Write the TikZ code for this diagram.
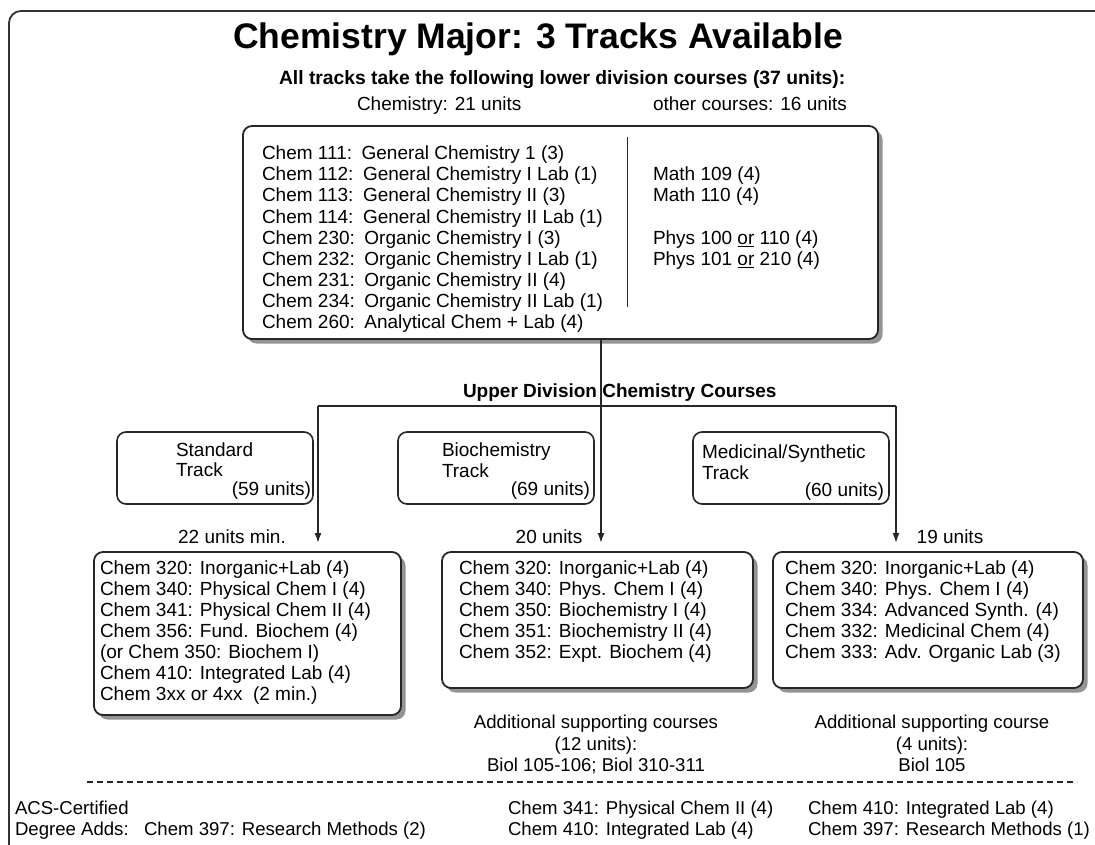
\documentclass[tikz,border=0pt]{standalone}
\usepackage{fontspec}
\setmainfont{Liberation Sans}
\usetikzlibrary{arrows.meta,shadows}
\begin{document}
\begin{tikzpicture}[x=1pt,y=-1pt,
 every node/.style={inner sep=0pt,outer sep=0pt},
 txt/.style={text height=13.6pt,text depth=0pt,anchor=west,font=\fontsize{19}{22}\selectfont},
 btxt/.style={text height=13.8pt,text depth=0pt,anchor=west,font=\bfseries\fontsize{19.3}{22}\selectfont},
 ctxt/.style={text height=13.3pt,text depth=0pt,anchor=center,font=\fontsize{18.6}{22}\selectfont},
 ntxt/.style={text height=13.3pt,text depth=0pt,anchor=west,font=\fontsize{18.6}{22}\selectfont},
 shadowbox/.style={draw=black!85,line width=1.8pt,rounded corners=9pt,fill=white,
   drop shadow={shadow xshift=4.5pt,shadow yshift=-4.5pt,fill=black!42,opacity=1}},
 trackbox/.style={draw=black!85,line width=1.6pt,rounded corners=9pt},
 conn/.style={draw=black!85,line width=1.5pt},
 arr/.style={conn,-{Latex[length=10pt,width=7pt]},shorten >=9pt},
 dline/.style={draw=black!85,line width=1.5pt,dash pattern=on 6pt off 4pt}
]
\useasboundingbox (0,0) rectangle (1095,845);
\fill[white] (0,0) rectangle (1095,845);
\begin{scope}
\clip (0,0) rectangle (1095,845);
\draw[line width=1.8pt,draw=black!80,rounded corners=12pt] (9,11) rectangle (1120,865);
\end{scope}

% title
\node[text height=25.4pt,text depth=0pt,font=\bfseries\fontsize{35.5}{40}\selectfont] (title) at (538,36) {Chemistry Major: 3 Tracks Available};
\node[btxt] (sub) at (279,77.5) {All tracks take the following lower division courses (37 units):};
\node[txt] (chemunits) at (357,104) {Chemistry: 21 units};
\node[txt] (otherunits) at (653,104) {other courses: 16 units};

% main box
\node[shadowbox,minimum width=635pt,minimum height=213pt] (main) at (560.5,232.5) {};
\foreach \t [count=\i from 0] in {
 Chem 111:\hspace{0.5em}General Chemistry 1 (3),
 Chem 112:\hspace{0.5em}General Chemistry I Lab (1),
 Chem 113:\hspace{0.5em}General Chemistry II (3),
 Chem 114:\hspace{0.5em}General Chemistry II Lab (1),
 Chem 230:\hspace{0.5em}Organic Chemistry I (3),
 Chem 232:\hspace{0.5em}Organic Chemistry I Lab (1),
 Chem 231:\hspace{0.5em}Organic Chemistry II (4),
 Chem 234:\hspace{0.5em}Organic Chemistry II Lab (1),
 Chem 260:\hspace{0.5em}Analytical Chem + Lab (4)}
 \node[txt] (lc\i) at (262,{153+21.1*\i}) {\t};
\coordinate (dvt) at (627.5,137);
\coordinate (dvb) at (627.5,307);
\draw[conn] (dvt) -- (dvb);
\node[txt] (m1) at (653,{153+21.1}) {Math 109 (4)};
\node[txt] (m2) at (653,{153+2*21.1}) {Math 110 (4)};
\node[txt] (p1) at (653,{153+4*21.1}) {Phys 100 \underline{or} 110 (4)};
\node[txt] (p2) at (653,{153+5*21.1}) {Phys 101 \underline{or} 210 (4)};

% upper division
\node[btxt,font=\bfseries\fontsize{19}{22}\selectfont] (upper) at (463,391) {Upper Division Chemistry Courses};
\coordinate (jm) at (601,406);
\coordinate (jl) at (318,406);
\coordinate (jr) at (896,406);

% track boxes
\node[trackbox,minimum width=196pt,minimum height=72pt] (std) at (215,468) {};
\node[trackbox,minimum width=196pt,minimum height=72pt] (bio) at (496,468) {};
\node[trackbox,minimum width=196pt,minimum height=72pt] (med) at (791,468) {};
\node[txt] (std1) at (176,450) {Standard};
\node[txt] (std2) at (176,470) {Track};
\node[txt,anchor=east] (std3) at (311,489) {(59 units)};
\node[txt] (bio1) at (442,450) {Biochemistry};
\node[txt] (bio2) at (442,471) {Track};
\node[txt,anchor=east] (bio3) at (590,489) {(69 units)};
\node[txt] (med1) at (702,452) {Medicinal/Synthetic};
\node[txt] (med2) at (702,473) {Track};
\node[txt,anchor=east] (med3) at (884,490) {(60 units)};

% course boxes
\node[shadowbox,minimum width=307pt,minimum height=163pt] (lbox) at (247.5,633.5) {};
\node[shadowbox,minimum width=311pt,minimum height=136pt] (mbox) at (597.5,620) {};
\node[shadowbox,minimum width=310pt,minimum height=136pt] (rbox) at (928,620) {};

\node[txt,anchor=center] (lu) at (232,537) {22 units min.};
\node[txt,anchor=center] (mu) at (549,537) {20 units};
\node[txt,anchor=center] (ru) at (950,537) {19 units};

\foreach \t [count=\i from 0] in {
 Chem 320: Inorganic+Lab (4),
 Chem 340: Physical Chem I (4),
 Chem 341: Physical Chem II (4),
 Chem 356: Fund. Biochem (4),
 (or Chem 350: Biochem I),
 Chem 410: Integrated Lab (4),
 Chem 3xx or 4xx\ \ (2 min.)}
 \node[txt] (l\i) at (100,{568+21*\i}) {\t};
\foreach \t [count=\i from 0] in {
 Chem 320: Inorganic+Lab (4),
 Chem 340: Phys. Chem I (4),
 Chem 350: Biochemistry I (4),
 Chem 351: Biochemistry II (4),
 Chem 352: Expt. Biochem (4)}
 \node[txt] (mm\i) at (459,{568+21*\i}) {\t};
\foreach \t [count=\i from 0] in {
 Chem 320: Inorganic+Lab (4),
 Chem 340: Phys. Chem I (4),
 Chem 334: Advanced Synth. (4),
 Chem 332: Medicinal Chem (4),
 Chem 333: Adv. Organic Lab (3)}
 \node[txt] (r\i) at (785,{568+21*\i}) {\t};

% connectors
\draw[conn] (main.south -| jm) -- (jm);
\draw[conn] (jl) -- (jr);
\draw[arr] (jm) -- (jm |- mbox.north);
\draw[arr] (jl) -- (jl |- lbox.north);
\draw[arr] (jr) -- (jr |- rbox.north);

% supporting courses
\node[ctxt] (ms1) at (596,722) {Additional supporting courses};
\node[ctxt] (ms2) at (596,744) {(12 units):};
\node[ctxt] (ms3) at (596,765) {Biol 105-106; Biol 310-311};
\node[ctxt] (rs1) at (932,722) {Additional supporting course};
\node[ctxt] (rs2) at (932,744) {(4 units):};
\node[ctxt] (rs3) at (932,765) {Biol 105};

% dashed separator
\coordinate (dl) at (87,782);
\coordinate (dr) at (1077,782);
\draw[dline] (dl) -- (dr);

% ACS
\node[ntxt] (acs1) at (15,808) {ACS-Certified};
\node[ntxt] (acs2) at (15,829) {Degree Adds:};
\node[ntxt] (acs3) at (144,829) {Chem 397: Research Methods (2)};
\node[ntxt] (acs4) at (508,808) {Chem 341: Physical Chem II (4)};
\node[ntxt] (acs5) at (508,829) {Chem 410: Integrated Lab (4)};
\node[ntxt] (acs6) at (808,808) {Chem 410: Integrated Lab (4)};
\node[ntxt] (acs7) at (808,829) {Chem 397: Research Methods (1)};
\end{tikzpicture}
\end{document}
